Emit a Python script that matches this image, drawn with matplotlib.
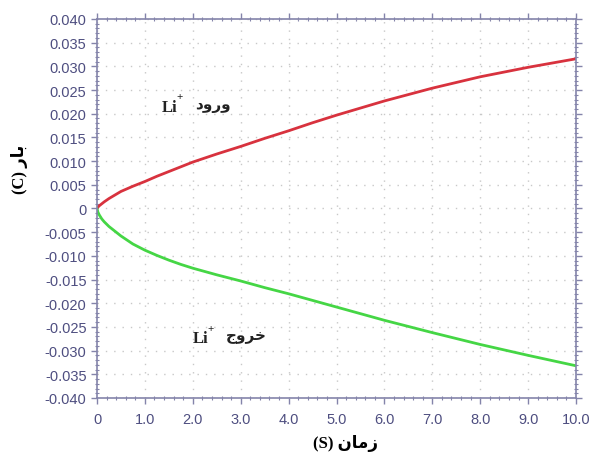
import matplotlib
matplotlib.use("Agg")
import matplotlib.pyplot as plt
from matplotlib.ticker import MultipleLocator, FixedLocator

# Charge passed during Li+ insertion / extraction versus time
time_s = [0, 0.02, 0.05, 0.1, 0.15, 0.25, 0.35, 0.5, 0.75, 1.0, 1.25, 1.5, 1.75, 2.0,
          2.5, 3.0, 3.5, 4.0, 4.5, 5.0, 6.0, 7.0, 8.0, 9.0, 10.0]
charge_in = [0, 0.0003, 0.0006, 0.0010, 0.0014, 0.0021, 0.0027, 0.0036, 0.0047, 0.0057,
             0.0068, 0.0078, 0.0088, 0.0098, 0.0115, 0.0131, 0.0148, 0.0164, 0.0181,
             0.0197, 0.0227, 0.0254, 0.0278, 0.0298, 0.0316]
charge_out = [0, -0.0008, -0.0014, -0.0022, -0.0028, -0.0038, -0.0046, -0.0058, -0.0075,
              -0.0088, -0.0099, -0.0109, -0.0118, -0.0126, -0.0140, -0.0153, -0.0167,
              -0.0180, -0.0194, -0.0208, -0.0236, -0.0262, -0.0287, -0.0310, -0.0332]

x_ticks = [0, 1, 2, 3, 4, 5, 6, 7, 8, 9, 10]
x_tick_labels = ["0", "1.0", "2.0", "3.0", "4.0", "5.0", "6.0", "7.0", "8.0", "9.0", "10.0"]
y_ticks = [-0.040, -0.035, -0.030, -0.025, -0.020, -0.015, -0.010, -0.005, 0,
           0.005, 0.010, 0.015, 0.020, 0.025, 0.030, 0.035, 0.040]
y_tick_labels = ["-0.040", "-0.035", "-0.030", "-0.025", "-0.020", "-0.015", "-0.010",
                 "-0.005", "0", "0.005", "0.010", "0.015", "0.020", "0.025", "0.030",
                 "0.035", "0.040"]

# Persian labels written in presentation forms (visual order)
x_label = "(S) \uFEE5\uFE8E\uFEE3\uFEAF"   # زمان (S)
y_label = "(C) \uFEAD\uFE8E\uFE91"         # بار (C)
word_in = "\uFEA9\uFEED\uFEAD\uFEED"        # ورود
word_out = "\uFE9D\uFEED\uFEAE\uFEA7"       # خروج
ion = "Li"

axis_col = "#8484aa"
tick_col = "#4e4e80"
text_family = ["Liberation Serif", "DejaVu Sans"]

fig = plt.figure(figsize=(5.94, 4.64), dpi=100)
ax = fig.add_axes([0.1633, 0.1401, 0.8064, 0.8168])

ax.plot(time_s, charge_in, color="#d8323e", lw=2.0, solid_capstyle="round")
ax.plot(time_s, charge_out, color="#45d645", lw=2.0, solid_capstyle="round")

ax.set_xlim(0, 10)
ax.set_ylim(-0.040, 0.040)
ax.xaxis.set_major_locator(FixedLocator(x_ticks))
ax.set_xticklabels(x_tick_labels)
ax.yaxis.set_major_locator(FixedLocator(y_ticks))
ax.set_yticklabels(y_tick_labels)
ax.xaxis.set_minor_locator(MultipleLocator(0.2))
ax.yaxis.set_minor_locator(MultipleLocator(0.001))

ax.grid(True, which="major", color="#c8c8c8", linestyle=(0, (1, 5)), lw=1.0)

for s in ax.spines.values():
    s.set_color(axis_col)
    s.set_linewidth(1.2)

ax.tick_params(axis="both", which="major", direction="out", length=4, width=1,
               color=axis_col, labelcolor=tick_col, labelsize=10.5,
               top=True, right=True)
ax.tick_params(axis="both", which="minor", direction="inout", length=3, width=0.8,
               color=axis_col, top=True, right=True)
ax.tick_params(axis="x", which="major", pad=6)
for lab in ax.get_xticklabels() + ax.get_yticklabels():
    lab.set_family(["Liberation Sans", "DejaVu Sans"])


def ion_label(x, y, word):
    """Draw 'Li+' followed by a Persian word at data position (x, y)."""
    ax.text(x, y, ion, family=text_family, fontsize=12, fontweight="bold",
            color="#222222", va="center", ha="left")
    ax.annotate("+", xy=(x, y), xycoords="data", xytext=(10.5, 7),
                textcoords="offset points", family=text_family, fontsize=8,
                fontweight="bold", color="#222222", va="center", ha="left")
    ax.annotate(word, xy=(x, y), xycoords="data", xytext=(24, 1),
                textcoords="offset points", family=text_family, fontsize=11,
                fontweight="bold", color="#222222", va="center", ha="left")


ion_label(1.36, 0.0215, word_in)
ion_label(2.0, -0.0273, word_out)

fig.text(0.581, 0.045, x_label, family=text_family, fontsize=12,
         fontweight="bold", ha="center", va="center")
fig.text(0.033, 0.635, y_label, family=text_family, fontsize=12,
         fontweight="bold", ha="center", va="center", rotation=90)

fig.savefig("out.png", dpi=100)
